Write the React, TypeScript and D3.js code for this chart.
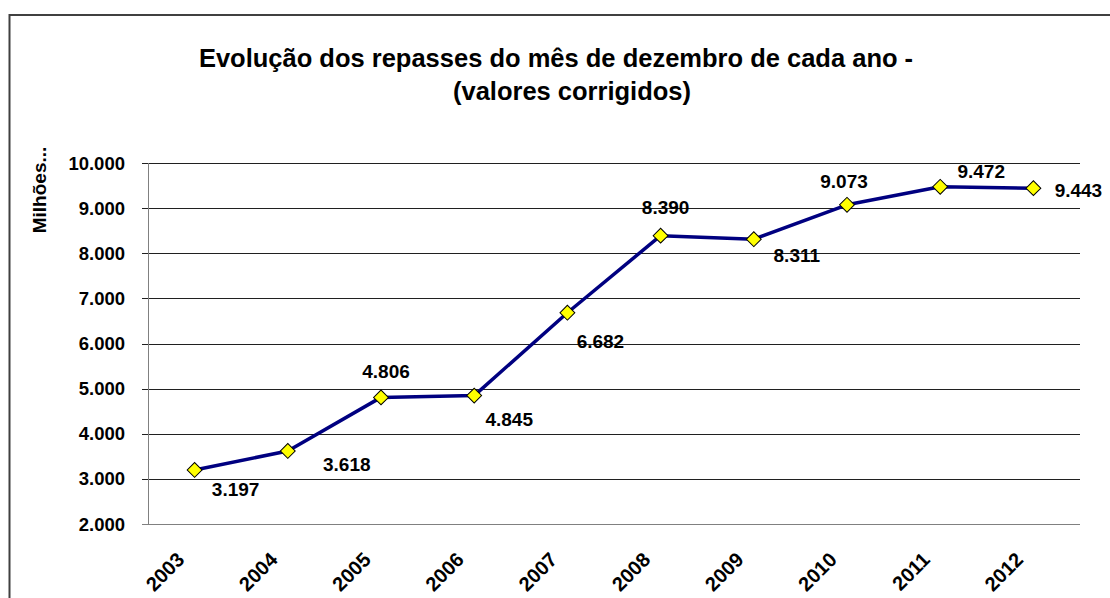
import React, { useEffect, useRef } from "react";
import * as d3 from "d3";

const years = ["2003", "2004", "2005", "2006", "2007", "2008", "2009", "2010", "2011", "2012"];
const repasses = [3197, 3618, 4806, 4845, 6682, 8390, 8311, 9073, 9472, 9443];
const valueLabels = ["3.197", "3.618", "4.806", "4.845", "6.682", "8.390", "8.311", "9.073", "9.472", "9.443"];
const yTicks = [2000, 3000, 4000, 5000, 6000, 7000, 8000, 9000, 10000];
const yTickLabels = ["2.000", "3.000", "4.000", "5.000", "6.000", "7.000", "8.000", "9.000", "10.000"];
// label offset from its point (dx, dy to baseline), like Excel's manual placement
const labelOffsets: [number, number][] = [
  [41, 26], [59, 20], [5, -19], [35, 30], [33, 35],
  [5, -22], [43, 23], [-3, -17], [41, -9], [45, 9],
];

const W = 1110;
const H = 598;
const FONT = "Liberation Sans, Arial, sans-serif";

export default function App() {
  const ref = useRef<SVGSVGElement>(null);

  useEffect(() => {
    const svg = d3.select(ref.current);
    svg.selectAll("*").remove();

    const left = 148, right = 1080, top = 163, bottom = 524;

    const x = d3.scalePoint<string>().domain(years).range([left, right]).padding(0.5);
    const y = d3.scaleLinear().domain([2000, 10000]).range([bottom, top]);

    // outer chart border (runs past the window on right/bottom)
    svg.append("rect")
      .attr("x", 9.5).attr("y", 15)
      .attr("width", W + 20).attr("height", H + 20)
      .attr("fill", "white")
      .attr("stroke", "#404040")
      .attr("stroke-width", 2);

    // title
    svg.append("text")
      .attr("x", 556).attr("y", 67)
      .attr("text-anchor", "middle")
      .attr("font-family", FONT).attr("font-weight", "bold")
      .attr("font-size", 25.5)
      .text("Evolução dos repasses do mês de dezembro de cada ano -");
    svg.append("text")
      .attr("x", 572).attr("y", 100)
      .attr("text-anchor", "middle")
      .attr("font-family", FONT).attr("font-weight", "bold")
      .attr("font-size", 25.5)
      .text("(valores corrigidos)");

    // gridlines + ticks
    const g = svg.append("g");
    g.selectAll("line.grid")
      .data(yTicks)
      .enter()
      .append("line")
      .attr("class", "grid")
      .attr("x1", left - 6).attr("x2", right)
      .attr("y1", d => Math.round(y(d)) + 0.5)
      .attr("y2", d => Math.round(y(d)) + 0.5)
      .attr("stroke", d => d === 2000 ? "#808080" : "#202020")
      .attr("stroke-width", 1);

    g.append("line")
      .attr("x1", left + 0.5).attr("x2", left + 0.5)
      .attr("y1", top).attr("y2", bottom)
      .attr("stroke", "#808080");

    g.selectAll("text.ytick")
      .data(yTicks)
      .enter()
      .append("text")
      .attr("class", "ytick")
      .attr("x", 125)
      .attr("y", d => y(d) + 6.5)
      .attr("text-anchor", "end")
      .attr("font-family", FONT).attr("font-weight", "bold")
      .attr("font-size", 18.5)
      .text((d, i) => yTickLabels[i]);

    // y axis title
    svg.append("text")
      .attr("transform", "translate(46,190) rotate(-90)")
      .attr("text-anchor", "middle")
      .attr("font-family", FONT).attr("font-weight", "bold")
      .attr("font-size", 19)
      .text("Milhões...");

    // x labels
    g.selectAll("text.xtick")
      .data(years)
      .enter()
      .append("text")
      .attr("class", "xtick")
      .attr("transform", d => `translate(${(x(d) as number) - 9},561) rotate(-45)`)
      .attr("text-anchor", "end")
      .attr("font-family", FONT).attr("font-weight", "bold")
      .attr("font-size", 20)
      .text(d => d);

    // line
    const line = d3.line<number>()
      .x((d, i) => x(years[i]) as number)
      .y(d => y(d));
    svg.append("path")
      .datum(repasses)
      .attr("d", line)
      .attr("fill", "none")
      .attr("stroke", "#000080")
      .attr("stroke-width", 3.5)
      .attr("stroke-linejoin", "round");

    // markers
    const diamond = d3.symbol().type(d3.symbolSquare).size(110);
    svg.selectAll("path.marker")
      .data(repasses)
      .enter()
      .append("path")
      .attr("class", "marker")
      .attr("d", diamond)
      .attr("transform", (d, i) => `translate(${x(years[i])},${y(d)}) rotate(45)`)
      .attr("fill", "#ffff00")
      .attr("stroke", "#000")
      .attr("stroke-width", 1);

    // value labels
    svg.selectAll("text.vlabel")
      .data(repasses)
      .enter()
      .append("text")
      .attr("class", "vlabel")
      .attr("x", (d, i) => (x(years[i]) as number) + labelOffsets[i][0])
      .attr("y", (d, i) => y(d) + labelOffsets[i][1])
      .attr("text-anchor", "middle")
      .attr("font-family", FONT).attr("font-weight", "bold")
      .attr("font-size", 19)
      .text((d, i) => valueLabels[i]);
  }, []);

  return (
    <div style={{ position: "absolute", left: 0, top: 0 }}>
      <svg ref={ref} width={W} height={H} style={{ display: "block" }}></svg>
    </div>
  );
}
